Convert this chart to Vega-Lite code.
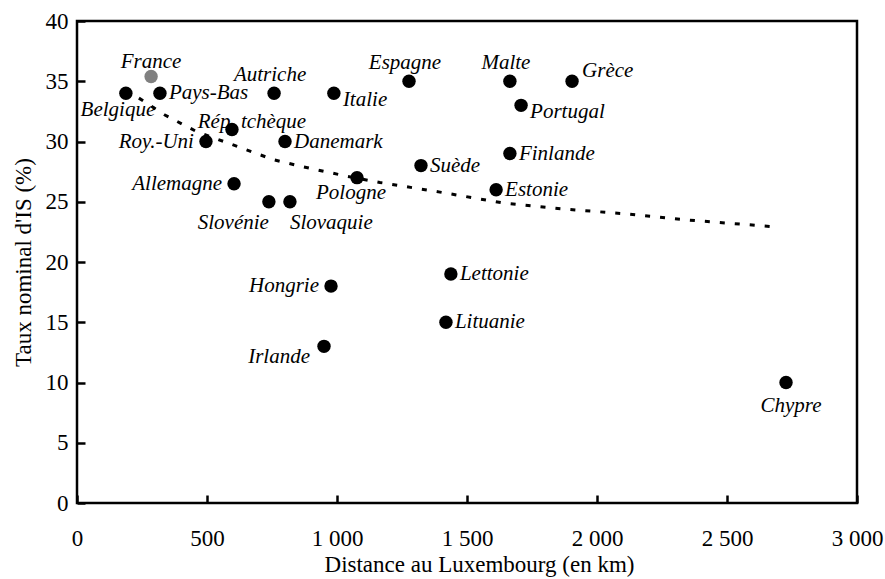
{
  "$schema": "https://vega.github.io/schema/vega-lite/v6.json",
  "width": 780,
  "height": 482,
  "autosize": "none",
  "padding": {"left": 77, "top": 21, "right": 28, "bottom": 76},
  "background": "white",
  "config": {
    "view": {"stroke": "black", "strokeWidth": 2.5},
    "font": "Liberation Serif",
    "axis": {
      "domain": false,
      "grid": false,
      "ticks": true,
      "tickColor": "black",
      "tickWidth": 2.5,
      "tickSize": -8,
      "labelFlush": false,
      "labelOverlap": false,
      "labelFont": "Liberation Serif",
      "labelFontSize": 23,
      "labelColor": "black",
      "titleFont": "Liberation Serif",
      "titleFontSize": 23,
      "titleFontWeight": "normal",
      "titleColor": "black"
    },
    "text": {"font": "Liberation Serif", "fontSize": 21, "fontStyle": "italic", "color": "black", "baseline": "middle"}
  },
  "datasets": {
    "pays": [
      {"pays": "France", "distance": 285, "taux": 35.4},
      {"pays": "Belgique", "distance": 188, "taux": 34},
      {"pays": "Pays-Bas", "distance": 319, "taux": 34},
      {"pays": "Autriche", "distance": 758, "taux": 34},
      {"pays": "Rép. tchèque", "distance": 596, "taux": 31},
      {"pays": "Roy.-Uni", "distance": 496, "taux": 30},
      {"pays": "Danemark", "distance": 800, "taux": 30},
      {"pays": "Allemagne", "distance": 604, "taux": 26.5},
      {"pays": "Slovénie", "distance": 738, "taux": 25},
      {"pays": "Slovaquie", "distance": 819, "taux": 25},
      {"pays": "Pologne", "distance": 1077, "taux": 27},
      {"pays": "Hongrie", "distance": 977, "taux": 18},
      {"pays": "Irlande", "distance": 950, "taux": 13},
      {"pays": "Espagne", "distance": 1277, "taux": 35},
      {"pays": "Italie", "distance": 988, "taux": 34},
      {"pays": "Malte", "distance": 1665, "taux": 35},
      {"pays": "Grèce", "distance": 1904, "taux": 35},
      {"pays": "Portugal", "distance": 1708, "taux": 33},
      {"pays": "Finlande", "distance": 1665, "taux": 29},
      {"pays": "Suède", "distance": 1323, "taux": 28},
      {"pays": "Estonie", "distance": 1612, "taux": 26},
      {"pays": "Lettonie", "distance": 1438, "taux": 19},
      {"pays": "Lituanie", "distance": 1419, "taux": 15},
      {"pays": "Chypre", "distance": 2727, "taux": 10}
    ],
    "tendance": [
      {"distance": 238, "taux": 33.6},
      {"distance": 338, "taux": 32.2},
      {"distance": 462, "taux": 30.8},
      {"distance": 577, "taux": 29.9},
      {"distance": 754, "taux": 28.5},
      {"distance": 869, "taux": 27.9},
      {"distance": 1042, "taux": 27.1},
      {"distance": 1165, "taux": 26.6},
      {"distance": 1396, "taux": 25.8},
      {"distance": 1638, "taux": 24.9},
      {"distance": 1869, "taux": 24.4},
      {"distance": 2108, "taux": 24.0},
      {"distance": 2342, "taux": 23.5},
      {"distance": 2577, "taux": 23.1},
      {"distance": 2696, "taux": 22.9}
    ]
  },
  "encoding": {
    "x": {
      "field": "distance", "type": "quantitative",
      "scale": {"domain": [0, 3000], "nice": false},
      "axis": {
        "values": [0, 500, 1000, 1500, 2000, 2500, 3000],
        "labelExpr": "replace(format(datum.value, ',d'), ',', ' ')",
        "labelPadding": 32,
        "title": "Distance au Luxembourg (en km)",
        "titlePadding": 3,
        "titleX": 402
      }
    },
    "y": {
      "field": "taux", "type": "quantitative",
      "scale": {"domain": [0, 40], "nice": false},
      "axis": {
        "values": [0, 5, 10, 15, 20, 25, 30, 35, 40],
        "labelPadding": 17,
        "title": "Taux nominal d'IS (%)",
        "titlePadding": 10
      }
    }
  },
  "layer": [
    {
      "data": {"name": "tendance"},
      "mark": {"type": "line", "color": "black", "strokeWidth": 3, "strokeDash": [5, 10]}
    },
    {
      "data": {"name": "pays"},
      "transform": [{"filter": {"field": "pays", "oneOf": ["Pays-Bas", "Danemark", "Finlande", "Suède", "Estonie", "Lettonie", "Lituanie"]}}],
      "mark": {"type": "text", "align": "left", "dx": 9, "dy": 0},
      "encoding": {"text": {"field": "pays"}}
    },
    {
      "data": {"name": "pays"},
      "transform": [{"filter": {"field": "pays", "oneOf": ["Italie", "Portugal"]}}],
      "mark": {"type": "text", "align": "left", "dx": 9, "dy": 7},
      "encoding": {"text": {"field": "pays"}}
    },
    {
      "data": {"name": "pays"},
      "transform": [{"filter": {"field": "pays", "oneOf": ["Grèce"]}}],
      "mark": {"type": "text", "align": "left", "dx": 10, "dy": -10},
      "encoding": {"text": {"field": "pays"}}
    },
    {
      "data": {"name": "pays"},
      "transform": [{"filter": {"field": "pays", "oneOf": ["Roy.-Uni", "Allemagne", "Hongrie"]}}],
      "mark": {"type": "text", "align": "right", "dx": -12, "dy": 0},
      "encoding": {"text": {"field": "pays"}}
    },
    {
      "data": {"name": "pays"},
      "transform": [{"filter": {"field": "pays", "oneOf": ["Espagne", "Malte", "Autriche"]}}],
      "mark": {"type": "text", "align": "center", "dx": -4, "dy": -18},
      "encoding": {"text": {"field": "pays"}}
    },
    {
      "data": {"name": "pays"},
      "transform": [{"filter": {"field": "pays", "oneOf": ["France"]}}],
      "mark": {"type": "text", "align": "center", "dx": 0, "dy": -14},
      "encoding": {"text": {"field": "pays"}}
    },
    {
      "data": {"name": "pays"},
      "transform": [{"filter": {"field": "pays", "oneOf": ["Rép. tchèque"]}}],
      "mark": {"type": "text", "align": "center", "dx": 20, "dy": -7},
      "encoding": {"text": {"field": "pays"}}
    },
    {
      "data": {"name": "pays"},
      "transform": [{"filter": {"field": "pays", "oneOf": ["Pologne"]}}],
      "mark": {"type": "text", "align": "center", "dx": -6, "dy": 15},
      "encoding": {"text": {"field": "pays"}}
    },
    {
      "data": {"name": "pays"},
      "transform": [{"filter": {"field": "pays", "oneOf": ["Chypre"]}}],
      "mark": {"type": "text", "align": "center", "dx": 5, "dy": 23},
      "encoding": {"text": {"field": "pays"}}
    },
    {
      "data": {"name": "pays"},
      "transform": [{"filter": {"field": "pays", "oneOf": ["Belgique"]}}],
      "mark": {"type": "text", "align": "center", "dx": -8, "dy": 17},
      "encoding": {"text": {"field": "pays"}}
    },
    {
      "data": {"name": "pays"},
      "transform": [{"filter": {"field": "pays", "oneOf": ["Slovénie"]}}],
      "mark": {"type": "text", "align": "right", "dx": 0, "dy": 21},
      "encoding": {"text": {"field": "pays"}}
    },
    {
      "data": {"name": "pays"},
      "transform": [{"filter": {"field": "pays", "oneOf": ["Slovaquie"]}}],
      "mark": {"type": "text", "align": "left", "dx": 0, "dy": 21},
      "encoding": {"text": {"field": "pays"}}
    },
    {
      "data": {"name": "pays"},
      "transform": [{"filter": {"field": "pays", "oneOf": ["Irlande"]}}],
      "mark": {"type": "text", "align": "right", "dx": -14, "dy": 11},
      "encoding": {"text": {"field": "pays"}}
    },
    {
      "data": {"name": "pays"},
      "mark": {"type": "circle", "size": 180, "opacity": 1},
      "encoding": {
        "color": {
          "condition": {"test": "datum.pays === 'France'", "value": "#808080"},
          "value": "black"
        }
      }
    }
  ]
}
